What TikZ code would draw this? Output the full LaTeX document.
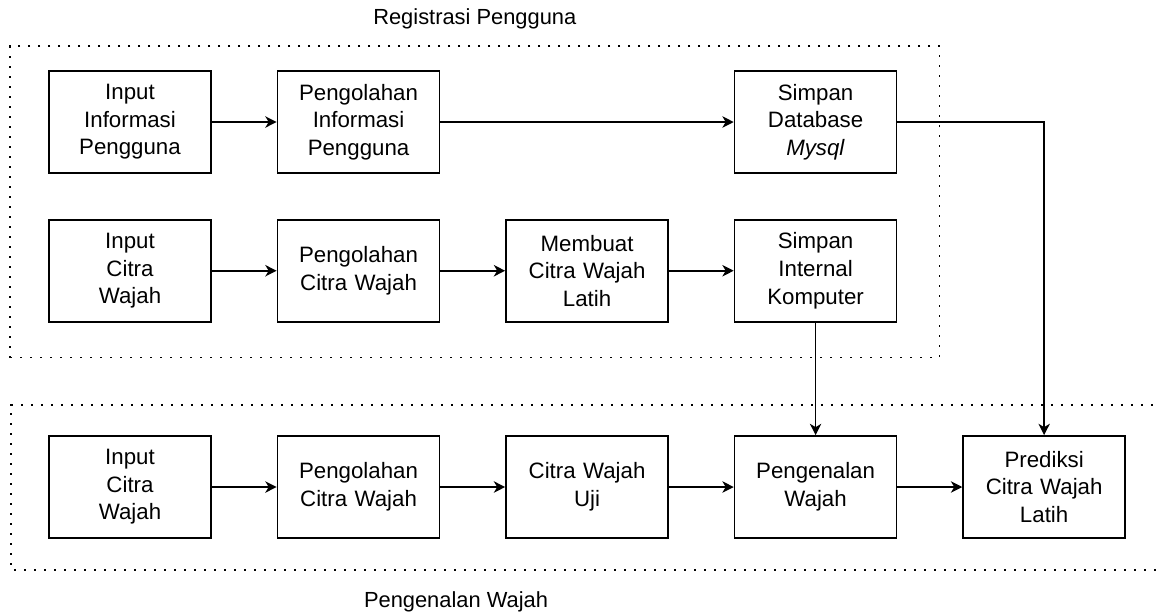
\documentclass[tikz,border=0pt]{standalone}
\usepackage{fontspec}
\setmainfont{Liberation Sans}
\usepackage{tikz}
\usetikzlibrary{shapes,arrows.meta, fit, positioning}
\tikzstyle{line} = [draw, -{Stealth[length=8.5pt,width=8.5pt,inset=2.5pt]}, line width=1.3pt]
\tikzstyle{block} = [rectangle, draw, line width=1.3pt, text width=115pt, inner sep=3.25pt,
  text centered, minimum height=76.5pt, font=\fontsize{16.7}{20.7}\selectfont]
\tikzstyle{dotbox} = [draw, line width=1.3pt, dash pattern=on 1.3pt off 6.2pt]
\tikzstyle{label} = [font=\fontsize{16.4}{20}\selectfont]

\begin{document}
\begin{tikzpicture}[node distance=171.4pt, auto]
    \useasboundingbox (0,0) rectangle (870.75pt,-459pt);

    % registrasi pengguna
    \node [block] (inInfo) at (97.5pt,-91.5pt) {Input\\Informasi\\Pengguna};
    \node [block, right of=inInfo] (olahInfo) {Pengolahan\\Informasi\\Pengguna};
    \node [block, below=33.75pt of inInfo] (inCitra) {Input\\Citra\\Wajah};
    \node [block, right of=inCitra] (olahCitra) {Pengolahan\\Citra Wajah};
    \node [block, right of=olahCitra] (latih) {Membuat\\Citra Wajah\\Latih};
    \node [block, right of=latih] (simpanInt) {Simpan\\Internal\\Komputer};
    \node [block, above=33.75pt of simpanInt] (simpanDb) {Simpan\\Database\\\textit{Mysql}};

    % pengenalan wajah
    \node [block, below=84.4pt of inCitra] (inCitraU) {Input\\Citra\\Wajah};
    \node [block, right of=inCitraU] (olahCitraU) {Pengolahan\\Citra Wajah};
    \node [block, right of=olahCitraU] (uji) {Citra Wajah\\Uji};
    \node [block, right of=uji] (kenal) {Pengenalan\\Wajah};
    \node [block, right of=kenal] (prediksi) {Prediksi\\Citra Wajah\\Latih};

    \node (reg-box) [dotbox, fit = (inInfo) (simpanInt), inner xsep=30pt, inner ysep=22.1pt,
      xshift=1.5pt, yshift=-4.1pt] {};
    \node at ([yshift=19.5pt]reg-box.north) (regLabel) [label] {Registrasi Pengguna};

    \coordinate (kenalNE) at (872pt,-303.75pt);
    \coordinate (kenalNW) at (8.25pt,-303.75pt);
    \coordinate (kenalSW) at (8.25pt,-427.5pt);
    \coordinate (kenalSE) at (872pt,-427.5pt);
    \draw [dotbox] (kenalNE) -- (kenalNW) -- (kenalSW) -- (kenalSE);
    \node at (342pt,-451.5pt) (kenalLabel) [label] {Pengenalan Wajah};

    \path [line] (inInfo) -- (olahInfo);
    \path [line] (olahInfo) -- (simpanDb);
    \path [line] (inCitra) -- (olahCitra);
    \path [line] (olahCitra) -- (latih);
    \path [line] (latih) -- (simpanInt);
    \path [line] (inCitraU) -- (olahCitraU);
    \path [line] (olahCitraU) -- (uji);
    \path [line] (uji) -- (kenal);
    \path [line] (kenal) -- (prediksi);
    \path [line] (simpanInt) -- (kenal);
    \path [line] (simpanDb) -| (prediksi);

  \end{tikzpicture}
\end{document}
